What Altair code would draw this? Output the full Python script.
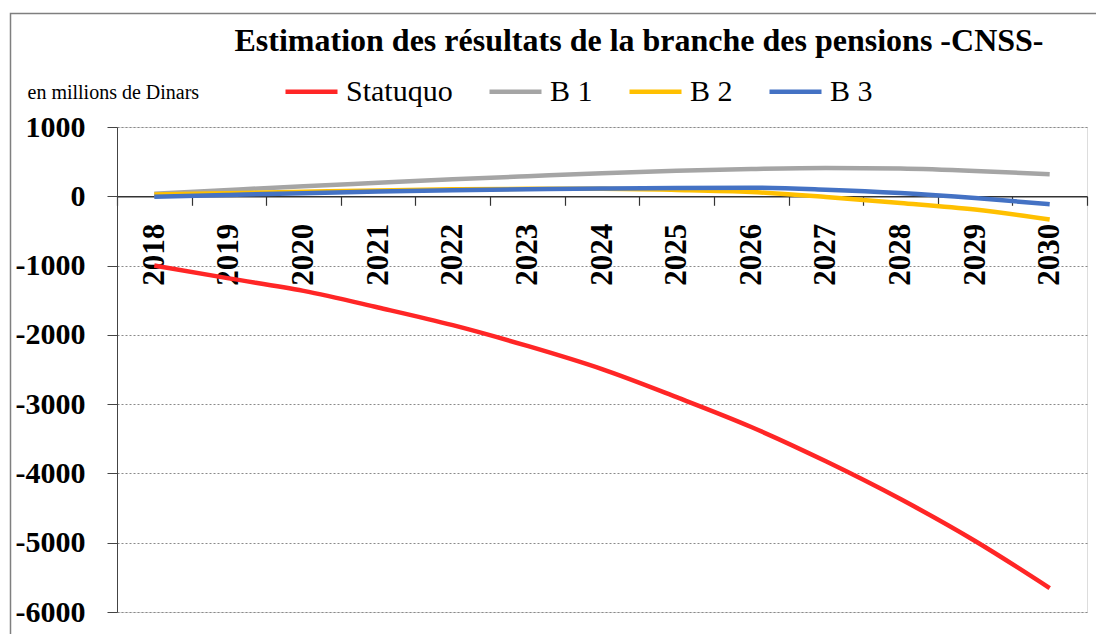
import altair as alt
import pandas as pd

years = ["2018", "2019", "2020", "2021", "2022", "2023", "2024",
         "2025", "2026", "2027", "2028", "2029", "2030"]
statuquo = [-1000, -1185, -1365, -1605, -1860, -2160, -2495,
            -2900, -3330, -3825, -4370, -4975, -5655]
b1 = [38, 92, 145, 195, 245, 290, 333, 370, 395, 410, 400, 366, 317]
b2 = [24, 45, 65, 85, 100, 108, 108, 92, 62, -10, -96, -192, -336]
b3 = [-5, 20, 45, 68, 88, 103, 112, 120, 124, 96, 48, -24, -115]

series_names = ["Statuquo", "B 1", "B 2", "B 3"]
series_colors = ["#FF2626", "#A5A5A5", "#FFC000", "#4472C4"]
y_ticks = [-6000, -5000, -4000, -3000, -2000, -1000, 0, 1000]

rows = []
for name, vals in zip(series_names, [statuquo, b1, b2, b3]):
    for yr, v in zip(years, vals):
        rows.append({"year": yr, "value": v, "series": name})
df = pd.DataFrame(rows)

W, H = 970, 485
zero_offset = -(H - H * 1000 / 7000)
SERIF = "Liberation Serif"

lines = alt.Chart(df).mark_line(strokeWidth=4.5, interpolate="monotone").encode(
    x=alt.X("year:O", bandPosition=0.5,
            scale=alt.Scale(type="band", paddingInner=0, paddingOuter=0),
            axis=alt.Axis(title=None, grid=False, tickBand="extent", tickSize=9,
                          labelAngle=-90, labelPadding=18, labelFont=SERIF,
                          labelFontSize=31, labelFontWeight="bold", labelColor="black",
                          domainColor="#333333", domainWidth=1.5, tickColor="#333333",
                          tickWidth=1.2, offset=zero_offset)),
    y=alt.Y("value:Q", scale=alt.Scale(domain=[-6000, 1000], nice=False, zero=False),
            axis=alt.Axis(values=y_ticks, labelExpr="datum.value + ''", tickSize=10,
                          labelPadding=22, labelFont=SERIF, labelFontSize=30,
                          labelFontWeight="bold", labelColor="black",
                          domainColor="#444444", tickColor="#444444",
                          gridColor="#8a8a8a", gridDash=[2, 2], gridWidth=1,
                          title="en millions de Dinars", titleAngle=0, titleAlign="left",
                          titleBaseline="middle", titleX=-90, titleY=-35,
                          titleFont=SERIF, titleFontWeight="normal", titleFontSize=20,
                          titleColor="black")),
    color=alt.Color("series:N",
                    scale=alt.Scale(domain=series_names, range=series_colors),
                    legend=alt.Legend(orient="none", legendX=166, legendY=-64,
                                      direction="horizontal", title=None,
                                      symbolType="stroke", symbolSize=2704,
                                      symbolStrokeWidth=4.5, labelFont=SERIF,
                                      labelFontSize=30, labelColor="black",
                                      labelOffset=6, columnPadding=27, padding=0,
                                      labelLimit=0)),
)

border = alt.Chart(pd.DataFrame({"a": [0]})).mark_rect(
    fill="white", fillOpacity=0, stroke="#7f7f7f", strokeWidth=1.5
).encode(x=alt.value(-106.5), x2=alt.value(1300), y=alt.value(-113.5), y2=alt.value(900))

chart = alt.layer(border, lines).properties(
    width=W, height=H,
    title=alt.Title("Estimation des résultats de la branche des pensions -CNSS-",
                    font=SERIF, fontSize=32, fontWeight="bold", color="black",
                    anchor="middle", frame="group", dx=37, offset=0, dy=45),
    autosize=alt.AutoSizeParams(type="none"),
    padding={"left": 109, "top": 119, "right": 9, "bottom": 22},
).configure_view(stroke=None).configure(background="white").configure_legend(
    labelFont=SERIF, labelFontSize=30
)

chart.save("out.html", embed_options={"renderer": "svg", "actions": False})
